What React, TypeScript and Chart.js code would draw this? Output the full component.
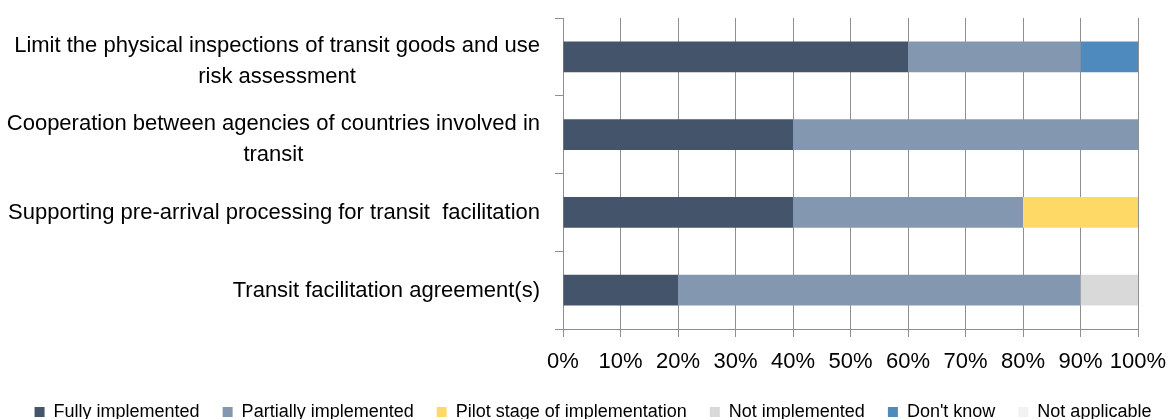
import React, { useEffect, useRef } from 'react';
import { Chart, registerables } from 'chart.js';

Chart.register(...registerables);

// Category labels (each entry = lines of the wrapped label)
const categoryLines: string[][] = [
  ['Limit the physical inspections of transit goods and use', 'risk assessment'],
  ['Cooperation between agencies of countries involved in', 'transit'],
  ['Supporting pre-arrival processing for transit  facilitation'],
  ['Transit facilitation agreement(s)'],
];

const seriesNames = [
  'Fully implemented',
  'Partially implemented',
  'Pilot stage of implementation',
  'Not implemented',
  "Don't know",
  'Not applicable',
];

const fullyImplemented = [60, 40, 40, 20];
const partiallyImplemented = [30, 60, 40, 70];
const pilotStage = [0, 0, 20, 0];
const notImplemented = [0, 0, 0, 10];
const dontKnow = [10, 0, 0, 0];
const notApplicable = [0, 0, 0, 0];

const xTickValues = [0, 10, 20, 30, 40, 50, 60, 70, 80, 90, 100];

const seriesColors = ['#44546a', '#8497b0', '#ffd966', '#d9d9d9', '#4e8abe', '#f2f2f2'];

const LABEL_FONT = '22px "Liberation Sans", Arial, sans-serif';
const GRID = '#8f8f8f';
const CANVAS_W = 1186;
const CANVAS_H = 419;

const categoryLabelPlugin = {
  id: 'categoryLabels',
  afterDraw(chart: any) {
    const y = chart.scales.y;
    const ctx = chart.ctx as CanvasRenderingContext2D;
    ctx.save();
    ctx.font = LABEL_FONT;
    ctx.fillStyle = '#000';
    ctx.textBaseline = 'alphabetic';
    ctx.textAlign = 'center';
    const rightEdge = chart.chartArea.left - 23;
    (chart.data.labels as string[][]).forEach((lines, i) => {
      const center = y.getPixelForTick(i);
      const blockW = Math.max(...lines.map((l) => ctx.measureText(l).width));
      const cx = rightEdge - blockW / 2;
      const n = lines.length;
      lines.forEach((line, j) => {
        const base = center + 7 + (j - (n - 1) / 2) * 31 + (n - 1) * 3.5;
        ctx.fillText(line, cx, base);
      });
    });
    ctx.restore();
  },
};

export default function App() {
  const canvasRef = useRef<HTMLCanvasElement | null>(null);

  useEffect(() => {
    if (!canvasRef.current) return;
    const seriesValues = [
      fullyImplemented,
      partiallyImplemented,
      pilotStage,
      notImplemented,
      dontKnow,
      notApplicable,
    ];
    const chart = new Chart(canvasRef.current, {
      type: 'bar',
      data: {
        labels: categoryLines as any,
        datasets: seriesNames.map((name, k) => ({
          label: name,
          data: seriesValues[k],
          backgroundColor: seriesColors[k],
          borderWidth: 0,
          barPercentage: 0.395,
          categoryPercentage: 1,
        })),
      },
      options: {
        indexAxis: 'y',
        responsive: false,
        animation: false,
        devicePixelRatio: 1,
        layout: { padding: { left: 0, top: 18, right: 0, bottom: 0 } },
        scales: {
          x: {
            stacked: true,
            min: 0,
            max: 100,
            afterBuildTicks: (scale: any) => {
              scale.ticks = xTickValues.map((v) => ({ value: v }));
            },
            ticks: {
              callback: (v: any) => v + '%',
              font: { family: '"Liberation Sans", Arial', size: 22 },
              color: '#000',
              padding: 12,
              maxRotation: 0,
              autoSkip: false,
            },
            grid: { color: GRID, tickLength: 8, drawTicks: true },
            border: { color: GRID },
            afterFit: (s: any) => {
              s.height = 51;
              s.paddingRight = 48;
              s.paddingLeft = 0;
            },
          } as any,
          y: {
            stacked: true,
            ticks: { display: false },
            grid: { display: true, drawOnChartArea: false, tickLength: 8, color: GRID, offset: true },
            border: { color: GRID },
            afterFit: (s: any) => {
              s.width = 563;
            },
          } as any,
        },
        plugins: {
          legend: {
            position: 'bottom',
            maxHeight: 39,
            labels: {
              boxWidth: 10,
              boxHeight: 10,
              padding: 23,
              color: '#000',
              font: { family: '"Liberation Sans", Arial', size: 18 },
            },
          } as any,
          tooltip: { enabled: false },
        },
      },
      plugins: [categoryLabelPlugin],
    });
    return () => chart.destroy();
  }, []);

  return (
    <div
      style={{
        position: 'fixed',
        left: 0,
        top: 0,
        width: 1169,
        height: 419,
        overflow: 'hidden',
        background: '#fff',
      }}
    >
      <canvas ref={canvasRef} width={CANVAS_W} height={CANVAS_H} style={{ display: 'block' }} />
    </div>
  );
}
